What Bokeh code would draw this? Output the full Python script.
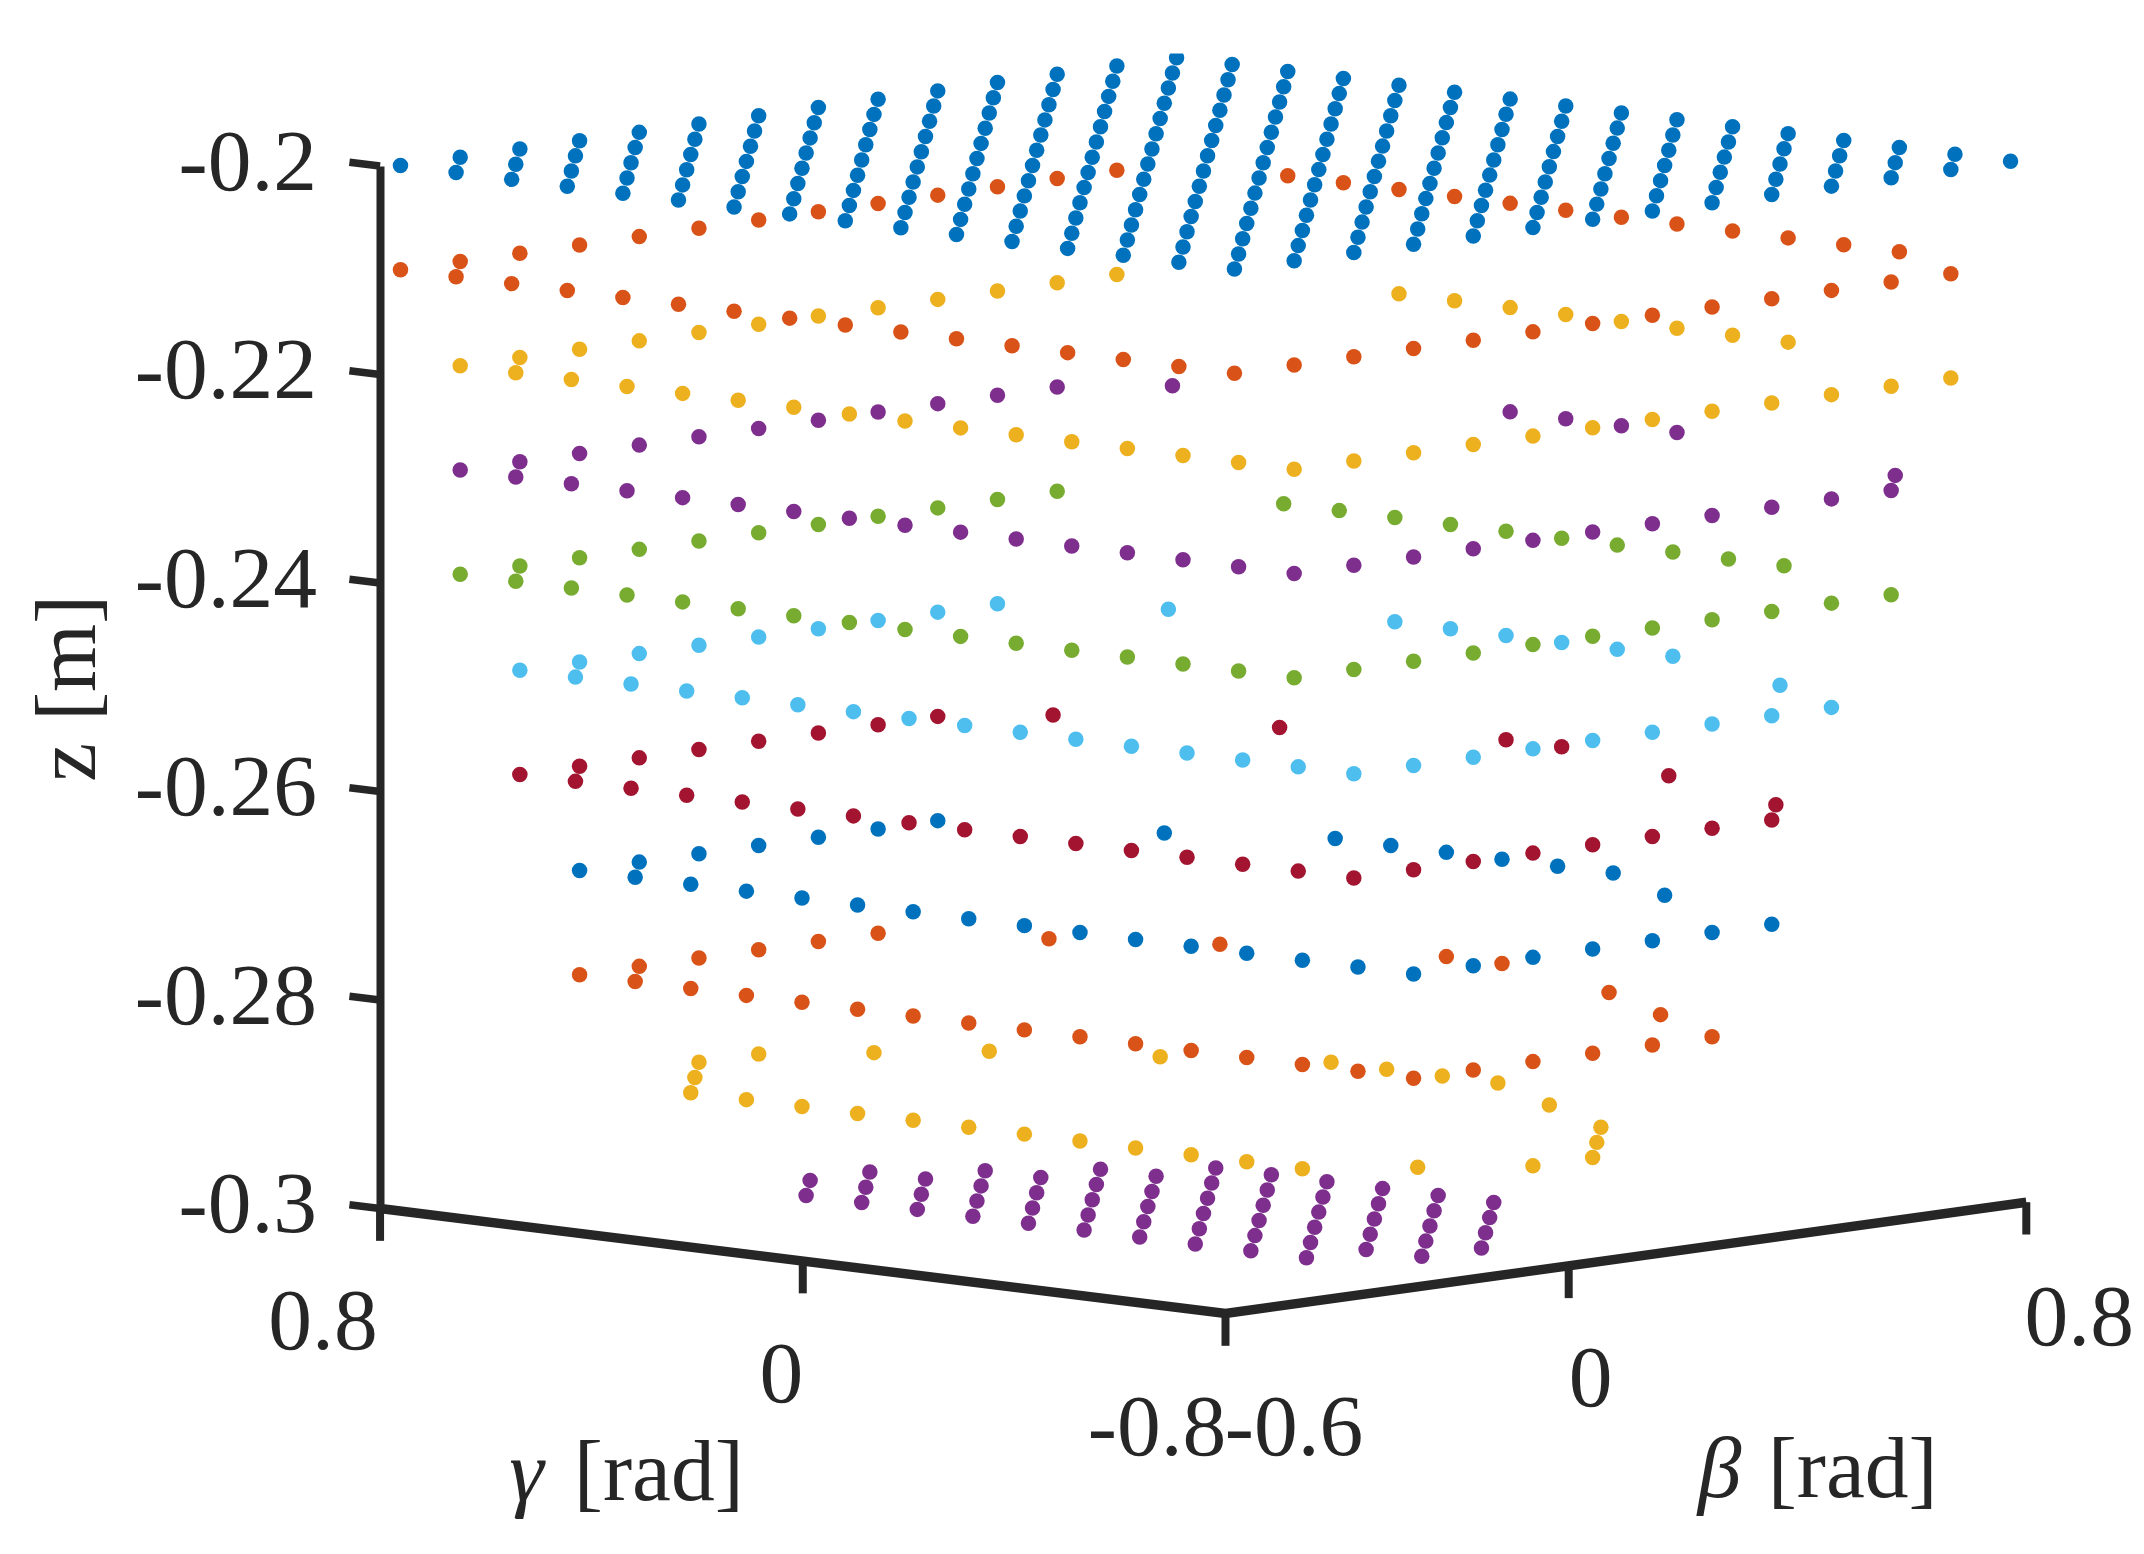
import math
import numpy as np
from bokeh.plotting import figure
from bokeh.models import ColumnDataSource, FixedTicker, LinearAxis, Range1d
from bokeh.core.properties import value
from bokeh.embed import file_html
from bokeh.resources import INLINE

# ---------- data ----------
beta_grid = [-0.5800, -0.4756, -0.3713, -0.2669, -0.1625, -0.0582, 0.0462,
             0.1506, 0.2550, 0.3593, 0.4637, 0.5681, 0.6724, 0.7768]
gamma_grid = [0.7830, 0.6778, 0.5726, 0.4673, 0.3621, 0.2569, 0.1517, 0.0465,
              -0.0588, -0.1640, -0.2692, -0.3744, -0.4796, -0.5849, -0.6901, -0.7953]
z_levels = [-0.20, -0.21, -0.22, -0.23, -0.24, -0.25, -0.26, -0.27, -0.28, -0.29, -0.30]
level_colors = ["#0072BD", "#D95319", "#EDB120", "#7E2F8E", "#77AC30", "#4DBEEE",
                "#A2142F", "#0072BD", "#D95319", "#EDB120", "#7E2F8E"]

# (beta index, gamma index) of every point in each z level
level_00 = [
    (0,0),(0,1),(0,2),(0,3),(0,4),(0,5),(0,6),(0,7),(0,8),(0,9),(0,10),(0,11),(0,12),(0,13),(0,14),(0,15),
    (1,0),(1,1),(1,2),(1,3),(1,4),(1,5),(1,6),(1,7),(1,8),(1,9),(1,10),(1,11),(1,12),(1,13),(1,14),(1,15),
    (2,0),(2,1),(2,2),(2,3),(2,4),(2,5),(2,6),(2,7),(2,8),(2,9),(2,10),(2,11),(2,12),(2,13),(2,14),(2,15),
    (3,0),(3,1),(3,2),(3,3),(3,4),(3,5),(3,6),(3,7),(3,8),(3,9),(3,10),(3,11),(3,12),(3,13),(3,14),(3,15),
    (4,0),(4,1),(4,2),(4,3),(4,4),(4,5),(4,6),(4,7),(4,8),(4,9),(4,10),(4,11),(4,12),(4,13),(4,14),(4,15),
    (5,0),(5,1),(5,2),(5,3),(5,4),(5,5),(5,6),(5,7),(5,8),(5,9),(5,10),(5,11),(5,12),(5,13),(5,14),(5,15),
    (6,0),(6,1),(6,2),(6,3),(6,4),(6,5),(6,6),(6,7),(6,8),(6,9),(6,10),(6,11),(6,12),(6,13),(6,14),(6,15),
    (7,0),(7,1),(7,2),(7,3),(7,4),(7,5),(7,6),(7,7),(7,8),(7,9),(7,10),(7,11),(7,12),(7,13),(7,14),(7,15),
    (8,0),(8,1),(8,2),(8,3),(8,4),(8,5),(8,6),(8,7),(8,8),(8,9),(8,10),(8,11),(8,12),(8,13),(8,14),(8,15),
    (9,0),(9,1),(9,2),(9,3),(9,4),(9,5),(9,6),(9,7),(9,8),(9,9),(9,10),(9,11),(9,12),(9,13),(9,14),(9,15),
    (10,0),(10,1),(10,2),(10,3),(10,4),(10,5),(10,6),(10,7),(10,8),(10,9),(10,10),(10,11),(10,12),(10,13),(10,14),(10,15),
    (11,0),(11,1),(11,2),(11,3),(11,4),(11,5),(11,6),(11,7),(11,8),(11,9),(11,10),(11,11),(11,12),(11,13),(11,14),(11,15),
    (12,0),(12,1),(12,2),(12,3),(12,4),(12,5),(12,6),(12,7),(12,8),(12,9),(12,10),(12,11),(12,12),(12,13),(12,14),(12,15),
    (13,0),(13,1),(13,2),(13,3),(13,4),(13,5),(13,6),(13,7),(13,8),(13,9),(13,10),(13,11),(13,12),(13,13),(13,14),(13,15),
]
level_01 = [
    (0,0),(1,0),(2,0),(3,0),(4,0),(5,0),(6,0),(7,0),(8,0),(9,0),(10,0),(11,0),(12,0),
    (13,2),(13,3),(13,4),(13,5),(13,6),(13,7),(13,8),(13,9),(13,10),(13,11),(13,12),(13,13),
    (0,1),(0,2),(0,3),(0,4),(0,5),(0,6),(0,7),(0,8),(0,9),(0,10),(0,11),(0,12),(0,13),(0,14),(0,15),
    (1,15),(2,15),(3,15),(4,15),(5,15),(6,15),(7,15),(8,15),(9,15),(10,15),(11,15),(12,15),
]
level_02 = [
    (1,0),(2,0),(3,0),(4,0),(5,0),(6,0),(7,0),(8,0),(9,0),(10,0),(11,0),(12,0),
    (13,4),(13,5),(13,6),(13,7),(13,8),(13,9),(13,10),(13,11),
    (1,1),(1,2),(1,3),(1,4),(1,5),(1,6),(1,7),(1,8),(1,9),(1,10),(1,11),(1,12),(1,13),(1,14),(1,15),
    (2,15),(3,15),(4,15),(5,15),(6,15),(7,15),(8,15),(9,15),(10,15),(11,15),(12,15),
]
level_03 = [
    (1,0),(2,0),(3,0),(4,0),(5,0),(6,0),(7,0),(8,0),(9,0),(10,0),(11,0),(12,1),
    (13,6),(13,7),(13,8),(13,9),(12,14),
    (1,1),(1,2),(1,3),(1,4),(1,5),(1,6),(1,7),(1,8),(1,9),(1,10),(1,11),(1,12),(1,13),(1,14),(1,15),
    (2,15),(3,15),(4,15),(5,15),(6,15),(7,15),(8,15),(9,15),(10,15),(11,15),
]
level_04 = [
    (1,0),(2,0),(3,0),(4,0),(5,0),(6,0),(7,0),(8,0),(9,0),(10,0),(11,0),
    (12,3),(12,4),(12,5),(12,6),(12,7),(12,8),(12,9),(12,10),(12,11),(12,12),
    (1,1),(1,2),(1,3),(1,4),(1,5),(1,6),(1,7),(1,8),(1,9),(1,10),(1,11),(1,12),(1,13),(1,14),(1,15),
    (2,15),(3,15),(4,15),(5,15),(6,15),(7,15),(8,15),(9,15),(10,15),(11,15),
]
level_05 = [
    (2,0),(3,0),(4,0),(5,0),(6,0),(7,0),(8,0),(9,0),(10,0),(11,2),
    (12,5),(12,6),(12,7),(12,8),(12,9),(12,10),(11,13),
    (2,1),(2,2),(2,3),(2,4),(2,5),(2,6),(2,7),(2,8),(2,9),(2,10),(2,11),(2,12),(2,13),(2,14),(2,15),
    (3,15),(4,15),(5,15),(6,15),(7,15),(8,15),(9,15),(10,15),
]
level_06 = [
    (2,0),(3,0),(4,0),(5,0),(6,0),(7,0),(8,0),(9,0),(10,1),(11,4),(12,7),(12,8),(11,11),(10,14),
    (2,1),(2,2),(2,3),(2,4),(2,5),(2,6),(2,7),(2,8),(2,9),(2,10),(2,11),(2,12),(2,13),(2,14),(2,15),
    (3,15),(4,15),(5,15),(6,15),(7,15),(8,15),(9,15),
]
level_07 = [
    (3,0),(4,0),(5,0),(6,0),(7,0),(8,0),(9,0),(10,3),
    (11,5),(11,6),(11,7),(11,8),(11,9),(11,10),(10,12),
    (3,1),(3,2),(3,3),(3,4),(3,5),(3,6),(3,7),(3,8),(3,9),(3,10),(3,11),(3,12),(3,13),(3,14),(3,15),
    (4,15),(5,15),(6,15),(7,15),(8,15),(9,15),
]
level_08 = [
    (3,0),(4,0),(5,0),(6,0),(7,0),(8,0),(9,2),(10,4),(11,7),(11,8),(10,11),(9,13),
    (3,1),(3,2),(3,3),(3,4),(3,5),(3,6),(3,7),(3,8),(3,9),(3,10),(3,11),(3,12),(3,13),(3,14),(3,15),
    (4,15),(5,15),(6,15),(7,15),(8,15),
]
level_09 = [
    (5,0),(4,1),(3,2),(3,3),(3,4),(3,5),(3,6),(3,7),(3,8),(3,9),(3,10),(3,11),(3,12),(3,13),
    (4,14),(5,15),(6,15),(7,14),(8,13),(9,11),(10,9),(10,8),(10,7),(10,6),(9,4),(8,2),(7,1),(6,0),
]
level_10 = [
    (5,2),(4,3),
    (6,2),(5,3),(4,4),
    (6,3),(5,4),(4,5),
    (7,3),(6,4),(5,5),(4,6),
    (7,4),(6,5),(5,6),(4,7),
    (8,4),(7,5),(6,6),(5,7),(4,8),
    (8,5),(7,6),(6,7),(5,8),(4,9),
    (9,5),(8,6),(7,7),(6,8),(5,9),(4,10),
    (9,6),(8,7),(7,8),(6,9),(5,10),(4,11),
    (9,7),(8,8),(7,9),(6,10),(5,11),(4,12),
    (9,8),(8,9),(7,10),(6,11),(5,12),
    (9,9),(8,10),(7,11),(6,12),(5,13),
    (9,10),(8,11),(7,12),(6,13),
]
levels = [level_00, level_01, level_02, level_03, level_04, level_05,
          level_06, level_07, level_08, level_09, level_10]

z_ticks = [-0.2, -0.22, -0.24, -0.26, -0.28, -0.3]
z_tick_labels = ["-0.2", "-0.22", "-0.24", "-0.26", "-0.28", "-0.3"]
gamma_ticks = [0.8, 0.0, -0.8]
gamma_tick_labels = ["0.8", "0", "-0.8"]
beta_ticks = [-0.6, 0.0, 0.8]
beta_tick_labels = ["-0.6", "0", "0.8"]

# ---------- orthographic projection of the 3-D view ----------
PX_PER_BETA, PX_PER_GAMMA, PX_PER_M = 572.0, 528.4, 10425.0
RISE_BETA, RISE_GAMMA = 79.5, 65.6
KG = PX_PER_GAMMA / PX_PER_BETA
KBY, KGY = RISE_BETA / PX_PER_M, RISE_GAMMA / PX_PER_M


def project(beta, gamma, z):
    beta, gamma, z = np.asarray(beta, float), np.asarray(gamma, float), np.asarray(z, float)
    return beta - KG * gamma, z + KBY * beta + KGY * gamma


FONT = value("Liberation Serif")
INK = "#262626"
FS = "87.5px"
W, H, TOP = 2136, 1546, 53
cx, cy = project(-0.6, -0.8, -0.3)          # front corner of the box
CORNER_X, CORNER_Y = 1225.0, 1313.0
x0, x1 = cx + (0 - CORNER_X) / PX_PER_BETA, cx + (W - CORNER_X) / PX_PER_BETA
y1, y0 = cy + (CORNER_Y - TOP) / PX_PER_M, cy - (H - CORNER_Y) / PX_PER_M

p = figure(width=W, height=H, x_range=Range1d(float(x0), float(x1)), y_range=Range1d(float(y0), float(y1)),
           x_axis_type=None, y_axis_type=None, toolbar_location=None, output_backend="svg",
           min_border_left=0, min_border_right=0, min_border_top=TOP, min_border_bottom=0,
           outline_line_color=None, background_fill_color="white", border_fill_color="white")
p.grid.visible = False

# z axis: a real axis placed at the box's left edge (labels are set below, a few px above their ticks)
zshift = float(KBY * -0.6 + KGY * 0.8)
p.extra_y_ranges = {"z": Range1d(float(y0) - zshift, float(y1) - zshift)}
zaxis = LinearAxis(y_range_name="z", ticker=FixedTicker(ticks=z_ticks),
                   major_label_overrides={t: "" for t in z_ticks},
                   bounds=(-0.3, -0.2), fixed_location=float(project(-0.6, 0.8, -0.3)[0]),
                   axis_line_color=INK, axis_line_width=8, major_tick_in=0, major_tick_out=0,
                   minor_tick_in=0, minor_tick_out=0, major_label_standoff=0,
                   major_label_text_font="Liberation Serif", major_label_text_font_size="1px")
p.add_layout(zaxis, "left")

# box edges along gamma and beta
gx, gy = project([-0.6, -0.6], [0.8, -0.8], [-0.3, -0.3])
bx, by = project([-0.6, 0.8], [-0.8, -0.8], [-0.3, -0.3])
p.line(np.r_[gx, bx[1:]], np.r_[gy, by[1:]], line_color=INK, line_width=9.5, line_join="miter")

# tick marks
TICK_DZ = 0.0031
TICK_DG = 0.058
for g in gamma_ticks:
    tx, ty = project([-0.6, -0.6], [g, g], [-0.3, -0.3 - TICK_DZ])
    p.line(tx, ty, line_color=INK, line_width=8)
for b in beta_ticks[1:]:
    tx, ty = project([b, b], [-0.8, -0.8], [-0.3, -0.3 - TICK_DZ])
    p.line(tx, ty, line_color=INK, line_width=8)
for z in z_ticks:
    tx, ty = project([-0.6, -0.6], [0.8, 0.8 + TICK_DG], [z, z])
    p.line(tx, ty, line_color=INK, line_width=7.5)

# the points
for z, col, pts in zip(z_levels, level_colors, levels):
    b = [beta_grid[i] for i, _ in pts]
    g = [gamma_grid[j] for _, j in pts]
    xs, ys = project(b, g, [z] * len(pts))
    p.scatter(xs, ys, size=15.5, marker="circle", fill_color=col, line_color=None)


def labels(xs, ys, texts, xo, yo, align="center", style="normal", angle=0.0):
    src = ColumnDataSource(dict(x=list(map(float, xs)), y=list(map(float, ys)), t=list(texts), xo=xo, yo=yo))
    p.text("x", "y", text="t", source=src, x_offset="xo", y_offset="yo", text_align=align,
           text_baseline="alphabetic", text_font=FONT, text_font_size=FS, text_color=INK,
           text_font_style=style, angle=angle, level="overlay")


ztx, zty = project([-0.6] * 6, [0.8] * 6, z_ticks)
labels(ztx, zty, z_tick_labels, [-63] * 6, [-5] * 6, align="right")
gtx, gty = project([-0.6] * 3, gamma_ticks, [-0.3] * 3)
labels(gtx, gty, gamma_tick_labels, [-57, -21.5, -68.5], [112, 112, 113])
btx, bty = project(beta_ticks, [-0.8] * 3, [-0.3] * 3)
labels(btx, bty, beta_tick_labels, [68.5, 22, 53], [113, 112, 114])

# axis titles
labels([gtx[1]], [gty[1]], ["γ"], [-293.5], [209], align="left", style="italic")
labels([gtx[1]], [gty[1]], ["[rad]"], [-229], [209], align="left")
labels([btx[1]], [bty[1]], ["β"], [129], [202], align="left", style="italic")
labels([btx[1]], [bty[1]], ["[rad]"], [199], [202], align="left")
zx, zy = project(-0.6, 0.8, -0.25)
labels([zx], [zy], ["z [m]"], [-315], [1], angle=math.pi / 2)

open("out.html", "w").write(file_html(p, INLINE))
